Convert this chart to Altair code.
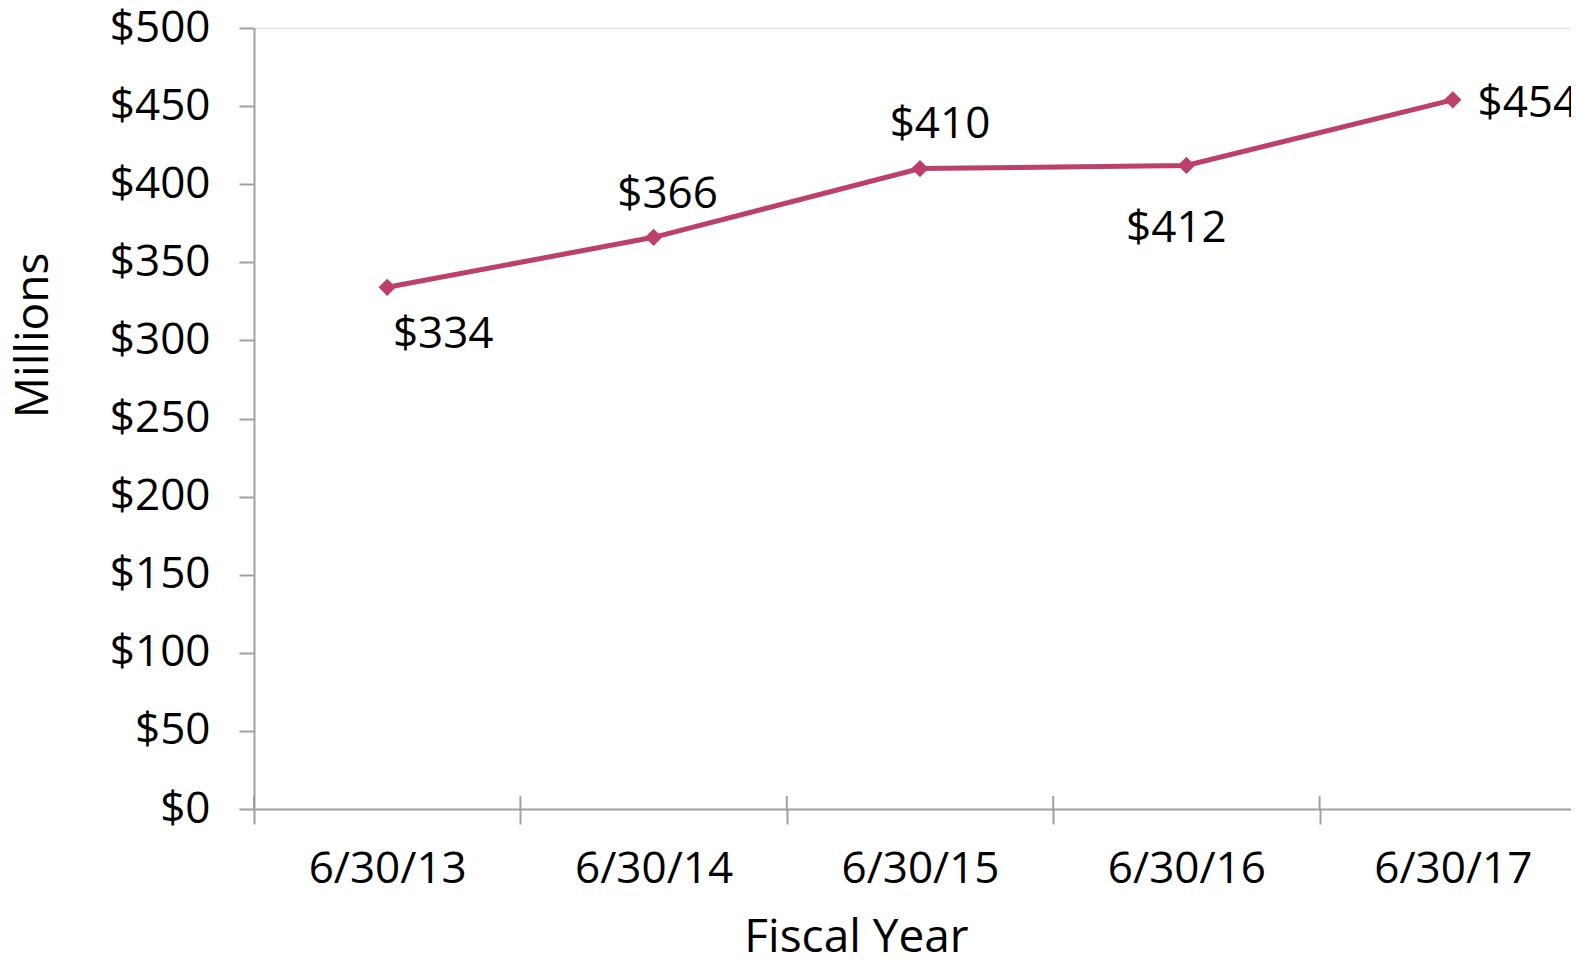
import altair as alt
import pandas as pd

dates = ["6/30/13", "6/30/14", "6/30/15", "6/30/16", "6/30/17"]
values = [334, 366, 410, 412, 454]
labels = ["$334", "$366", "$410", "$412", "$454"]

df = pd.DataFrame({"date": dates, "value": values, "label": labels})

TOP = 20
H = 809 - 8 - TOP
W = 1317
FULL = 1332
FONT = "Open Sans"
AX = "#a0a0a0"
LINE = "#BC3F6C"

xenc = alt.X("date:N", sort=dates,
             scale=alt.Scale(range=[0, FULL], paddingInner=0, paddingOuter=0),
             axis=alt.Axis(title="Fiscal Year", labelAngle=0, tickBand="extent",
                           tickSize=15, tickWidth=2, tickColor=AX,
                           domainColor=AX, domainWidth=2,
                           labelFont=FONT, labelFontSize=44, labelColor="black",
                           labelPadding=45, labelBaseline="middle",
                           titleFont=FONT, titleFontSize=46, titleFontWeight="normal",
                           titleColor="black", titleX=602, titleY=142,
                           titleBaseline="alphabetic", titleAlign="center"))

yenc = alt.Y("value:Q",
             scale=alt.Scale(domain=[0, 500], nice=False, zero=True),
             axis=alt.Axis(title="Millions", values=list(range(0, 501, 50)),
                           format="$,.0f", grid=False,
                           tickSize=15, tickWidth=2, tickColor=AX,
                           domainColor=AX, domainWidth=2,
                           labelFont=FONT, labelFontSize=44, labelColor="black",
                           labelPadding=29, labelBaseline="middle",
                           titleFont=FONT, titleFontSize=46, titleFontWeight="normal",
                           titleColor="black", titleAngle=270, titleX=-207,
                           titleY=307, titleBaseline="alphabetic", titleAlign="center"))

base = alt.Chart(df)

line = base.mark_line(color=LINE, strokeWidth=5, clip=False).encode(x=xenc, y=yenc)
pts = base.mark_point(shape="diamond", filled=True, color=LINE, size=300, opacity=1).encode(
    x=alt.X("date:N", sort=dates), y="value:Q")

up_ticks = base.mark_rule(color=AX, strokeWidth=2).encode(
    x=alt.X("date:N", sort=dates, bandPosition=0),
    y=alt.value(H - 13), y2=alt.value(H))

offsets = [(56, 48), (14, -42), (20, -44), (-10, 64), (75, 4)]
texts = []
for d, (dx, dy) in zip(dates, offsets):
    texts.append(base.transform_filter(alt.datum.date == d).mark_text(
        font=FONT, fontSize=44, color="black", dx=dx, dy=dy,
        baseline="middle", align="center").encode(
        x=alt.X("date:N", sort=dates), y="value:Q", text="label:N"))

chart = alt.layer(line, up_ticks, pts, *texts).properties(
    width=W, height=H,
    autosize=alt.AutoSizeParams(type="none"),
    padding={"left": 246, "top": TOP, "right": 0, "bottom": 949 - TOP - H},
).configure_view(stroke=None).configure(background="white")

chart.save("out.html", embed_options={"renderer": "svg", "actions": False})
